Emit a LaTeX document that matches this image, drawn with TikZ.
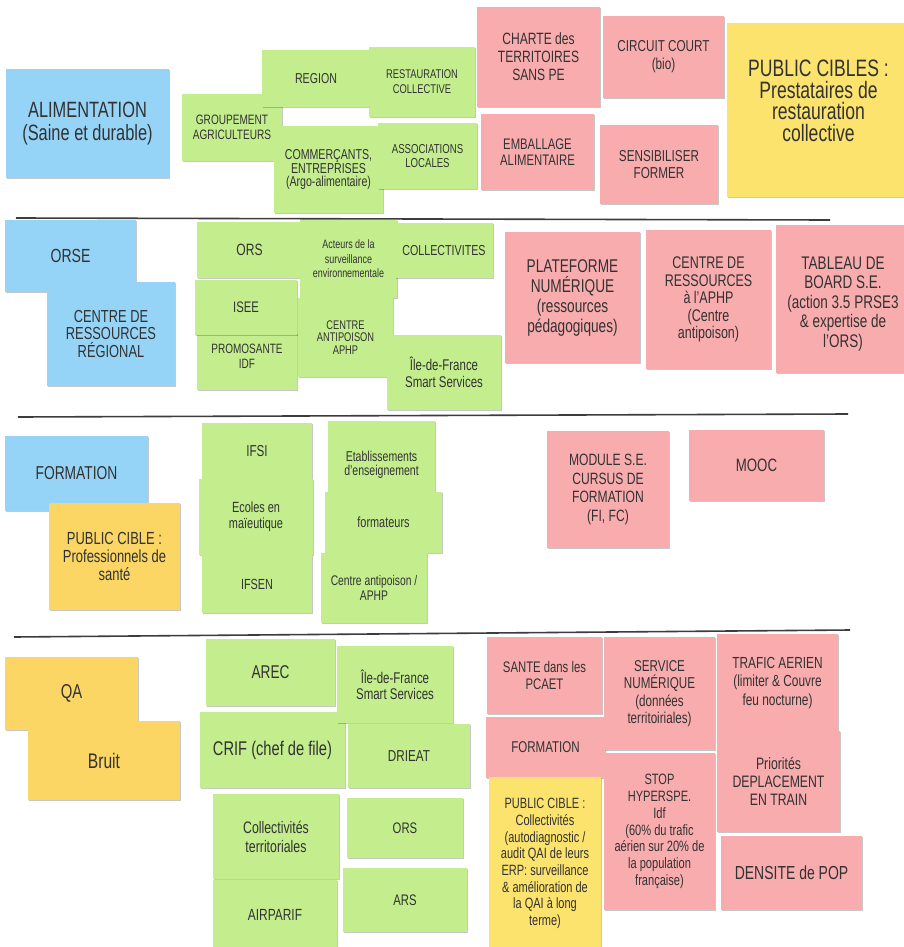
\documentclass[tikz,border=0pt]{standalone}
\usepackage{fontspec}
\setmainfont{Liberation Sans}[FakeStretch=0.74]
\usetikzlibrary{shadows}
\definecolor{stblue}{RGB}{150,212,247}
\definecolor{stgreen}{RGB}{196,238,142}
\definecolor{stpink}{RGB}{249,172,174}
\definecolor{styellow}{RGB}{251,227,110}
\definecolor{storange}{RGB}{251,214,100}
\definecolor{stext}{RGB}{50,50,50}
\definecolor{sepcol}{RGB}{60,60,60}
\newcommand\fs[2]{\fontsize{\fpeval{#1*1.055}}{#2}\selectfont}
% [dy]{name}{colour}{x1}{y1}{x2}{y2}{font}{text}
\newcommand\sticky[9][0]{%
  \fill[#3, sticky shadow] (#4,#5) rectangle (#6,#7);
  \node[txt, font=#8] (#2) at ({(#4+#6)/2},{(#5+#7)/2+#1}) {#9};}
\tikzset{
  sticky shadow/.style={drop shadow={shadow xshift=0.8pt,shadow yshift=-1.3pt,opacity=0.22,fill=black}},
  txt/.style={align=center, inner sep=0pt, text=stext},
  sepline/.style={draw=sepcol, line width=1.6pt}
}
\begin{document}
\begin{tikzpicture}[x=1pt,y=-1pt]
\useasboundingbox[fill=white] (0,0) rectangle (903,947);

% ---------- Section 1 : ALIMENTATION ----------
\sticky{alim}{stblue}{6}{69}{169}{178}{\fs{21}{23}}{ALIMENTATION\\(Saine et durable)}
\sticky{grp}{stgreen}{182}{94}{282}{161}{\fs{12.9}{14.5}}{GROUPEMENT\\AGRICULTEURS}
\sticky{region}{stgreen}{262}{50}{370}{107}{\fs{13.6}{15}}{REGION}
\sticky{resto}{stgreen}{369}{47}{475}{117}{\fs{12}{15}}{RESTAURATION\\COLLECTIVE}
\sticky{comm}{stgreen}{274}{126}{383}{213}{\fs{13.6}{13.8}}{COMMERÇANTS,\\ENTREPRISES\\(Argo-alimentaire)}
\sticky{asso}{stgreen}{378}{123}{477}{189}{\fs{12.3}{14.5}}{ASSOCIATIONS\\LOCALES}
\sticky{charte}{stpink}{477}{7}{600}{107}{\fs{15.5}{18}}{CHARTE des\\TERRITOIRES\\SANS PE}
\sticky{circuit}{stpink}{603}{16}{724}{98}{\fs{15}{18}}{CIRCUIT COURT\\(bio)}
\sticky{emball}{stpink}{481}{114}{594}{190}{\fs{14.5}{16}}{EMBALLAGE\\ALIMENTAIRE}
\sticky{sensib}{stpink}{600}{125}{718}{204}{\fs{15}{16.7}}{SENSIBILISER\\FORMER}
\sticky[-9]{pubcibles}{styellow}{727}{23}{910}{197}{\fs{22.5}{21.5}}{PUBLIC CIBLES :\\Prestataires de\\restauration\\collective}

\draw[sepline] (16,218) -- (830,220);

% ---------- Section 2 : ORSE ----------
\sticky{orse}{stblue}{5}{220}{136}{292}{\fs{18}{20}}{ORSE}
\sticky{crr}{stblue}{47}{282}{175}{386}{\fs{16.5}{17.5}}{CENTRE DE\\RESSOURCES\\RÉGIONAL}
\sticky{ors}{stgreen}{197}{222}{302}{278}{\fs{15.5}{17}}{ORS}
\sticky{acteurs}{stgreen}{300}{220}{397}{298}{\fs{11.5}{14.5}}{Acteurs de la\\surveillance\\environnementale}
\sticky{collec}{stgreen}{395}{223}{493}{278}{\fs{13.7}{15}}{COLLECTIVITES}
\sticky[-5]{promo}{stgreen}{197}{333}{297}{390}{\fs{12.8}{14.7}}{PROMOSANTE\\IDF}
\sticky{isee}{stgreen}{195}{280}{297}{335}{\fs{14.5}{16}}{ISEE}
\sticky{cap}{stgreen}{298}{298}{393}{377}{\fs{11.9}{12.8}}{CENTRE\\ANTIPOISON\\APHP}
\sticky{idfss}{stgreen}{387}{335}{501}{410}{\fs{14.7}{17.5}}{Île-de-France\\Smart Services}
\sticky{plat}{stpink}{505}{232}{640}{363}{\fs{17.5}{20}}{PLATEFORME\\NUMÉRIQUE\\(ressources\\pédagogiques)}
\sticky{craphp}{stpink}{646}{230}{771}{369}{\fs{16}{17.4}}{CENTRE DE\\RESSOURCES\\à l'APHP\\(Centre\\antipoison)}
\sticky[5]{tableau}{stpink}{776}{225}{910}{373}{\fs{17.3}{19.6}}{TABLEAU DE\\BOARD S.E.\\(action 3.5 PRSE3\\\& expertise de\\l'ORS)}

\draw[sepline] (18,417) -- (848,414);

% ---------- Section 3 : FORMATION ----------
\sticky{form}{stblue}{5}{436}{148}{511}{\fs{17.7}{20}}{FORMATION}
\sticky{prosante}{storange}{49}{503}{180}{610}{\fs{16.6}{18}}{PUBLIC CIBLE :\\Professionnels de\\santé}
\sticky{ifsi}{stgreen}{202}{423}{312}{480}{\fs{15}{16}}{IFSI}
\sticky{ecoles}{stgreen}{199}{479}{313}{555}{\fs{14}{15.7}}{Ecoles en\\maïeutique}
\sticky{ifsen}{stgreen}{202}{555}{312}{613}{\fs{13.9}{16}}{IFSEN}
\sticky[8]{etab}{stgreen}{328}{421}{435}{492}{\fs{13.5}{14.3}}{Etablissements\\d'enseignement}
\sticky{formateurs}{stgreen}{325}{492}{442}{553}{\fs{14}{16}}{formateurs}
\sticky{capaphp}{stgreen}{321}{553}{427}{623}{\fs{13.2}{14.3}}{Centre antipoison /\\APHP}
\sticky{module}{stpink}{547}{431}{669}{548}{\fs{15.5}{18.7}}{MODULE S.E.\\CURSUS DE\\FORMATION\\(FI, FC)}
\sticky{mooc}{stpink}{689}{430}{824}{501}{\fs{17}{19}}{MOOC}

\draw[sepline] (14,637) -- (850,630);

% ---------- Section 4 : QA / Bruit ----------
\sticky{qa}{storange}{5}{657}{138}{730}{\fs{19}{21}}{QA}
\sticky{bruit}{storange}{28}{721}{180}{800}{\fs{20}{22}}{Bruit}
\sticky{arec}{stgreen}{206}{639}{335}{706}{\fs{17.5}{19}}{AREC}
\sticky{crif}{stgreen}{200}{712}{345}{788}{\fs{18.8}{20}}{CRIF (chef de file)}
\sticky{idfss2}{stgreen}{337}{646}{453}{723}{\fs{14.7}{16}}{Île-de-France\\Smart Services}
\sticky{drieat}{stgreen}{348}{724}{470}{788}{\fs{15}{17}}{DRIEAT}
\sticky{colter}{stgreen}{213}{794}{339}{879}{\fs{15.8}{19}}{Collectivités\\territoriales}
\sticky{airparif}{stgreen}{213}{880}{337}{950}{\fs{15.3}{17}}{AIRPARIF}
\sticky{ors2}{stgreen}{347}{798}{463}{858}{\fs{14.5}{16}}{ORS}
\sticky{ars}{stgreen}{343}{868}{467}{932}{\fs{14.5}{16}}{ARS}
\sticky{sante}{stpink}{487}{637}{602}{714}{\fs{14.5}{16.7}}{SANTE dans les\\PCAET}
\sticky{form2}{stpink}{486}{717}{605}{778}{\fs{14.8}{16}}{FORMATION}
\sticky{pubcoll}{styellow}{489}{777}{601}{950}{\fs{14.1}{16.7}}{PUBLIC CIBLE :\\Collectivités\\(autodiagnostic /\\audit QAI de leurs\\ERP: surveillance\\\& amélioration de\\la QAI à long\\terme)}
\sticky{servnum}{stpink}{604}{637}{715}{750}{\fs{14.9}{17.3}}{SERVICE\\NUMÉRIQUE\\(données\\territoiriales)}
\sticky{stop}{stpink}{604}{753}{715}{910}{\fs{14.2}{16.8}}{STOP\\HYPERSPE.\\Idf\\(60\% du trafic\\aérien sur 20\% de\\la population\\française)}
\sticky{trafic}{stpink}{717}{634}{838}{732}{\fs{15.2}{18.3}}{TRAFIC AERIEN\\(limiter \& Couvre\\feu nocturne)}
\sticky{prio}{stpink}{717}{731}{840}{832}{\fs{15.7}{18.3}}{Priorités\\DEPLACEMENT\\EN TRAIN}
\sticky{densite}{stpink}{721}{836}{862}{910}{\fs{17.9}{20}}{DENSITE de POP}
\end{tikzpicture}
\end{document}
